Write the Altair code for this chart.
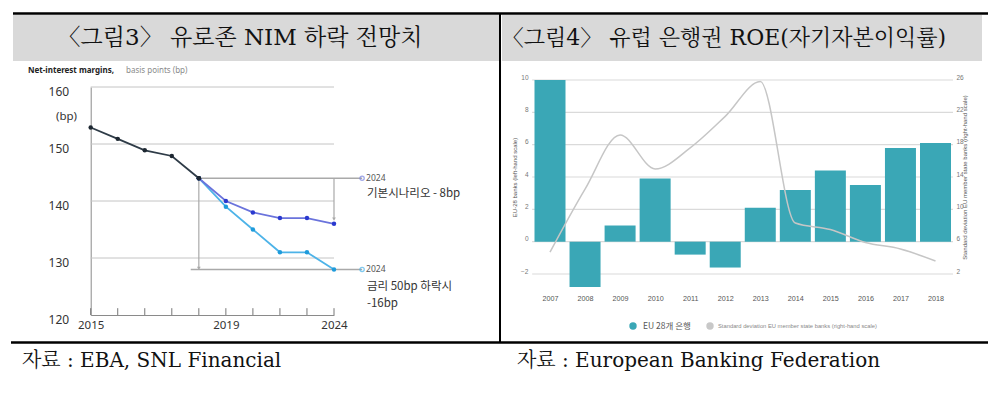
import altair as alt
import pandas as pd

W, H = 984, 382

# ---------------- left panel: Eurozone net-interest margin (bp)
nim_years_hist = [2015, 2016, 2017, 2018, 2019]
nim_hist = [152.9, 150.9, 148.9, 147.9, 144.0]
nim_years_fc = [2019, 2020, 2021, 2022, 2023, 2024]
nim_base = [144.0, 140.0, 138.0, 137.0, 137.0, 136.0]
nim_low = [144.0, 139.0, 135.0, 131.0, 131.0, 128.0]
nim_years = list(range(2015, 2025))
nim_ticks = [120, 130, 140, 150, 160]
nim_grid = [130, 140, 150, 160]
nim_xtick_labels = {2015: "2015", 2020: "2019", 2024: "2024"}

# ---------------- right panel: European banks ROE
roe_years = list(range(2007, 2019))
roe_eu28 = [10.0, -2.8, 1.0, 3.9, -0.8, -1.6, 2.1, 3.2, 4.4, 3.5, 5.8, 6.1]
roe_sd = [4.7, 12.5, 19.2, 15.0, 17.6, 21.5, 25.8, 8.3, 7.5, 5.9, 5.1, 3.6]
roe_left_ticks = [-2, 0, 2, 4, 6, 8, 10]
roe_right_ticks = [2, 6, 10, 14, 18, 22, 26]

SERIF = "DejaVu Serif, Noto Serif CJK KR, Noto Sans CJK KR"
KR = "Noto Sans CJK KR"
NARROW = "Liberation Sans Narrow, Arial Narrow, Liberation Sans"

one = pd.DataFrame({"k": [0]})

# ============ left chart =============
lx = alt.Scale(domain=[2015, 2024], range=[82.7, 326], nice=False, zero=False)
ly = alt.Scale(domain=[120, 160], range=[307, 79], nice=False, zero=False)
label_expr = " : ".join(f"datum.value == {k} ? '{v}'" for k, v in nim_xtick_labels.items()) + " : ''"
lx_axis = alt.Axis(orient="bottom", offset=307 - H, values=list(nim_xtick_labels), labelExpr=label_expr,
                   domain=True, domainColor="#8a8a8a", ticks=False, grid=False, labelFont="Noto Sans",
                   labelFontSize=11.5, labelColor="#333", labelPadding=4, labelFlush=False, title=None)
ly_axis = alt.Axis(orient="left", offset=-82.7, values=nim_ticks, format="d", domain=True,
                   domainColor="#8a8a8a", ticks=False, grid=False, labelFont="Noto Sans",
                   labelFontSize=12, labelColor="#333", labelPadding=22, labelOffset=4, title=None)

grid_l = alt.Chart(pd.DataFrame({"v": nim_grid})).transform_calculate(
    xa=str(nim_years[0]), xb=str(nim_years[-1])
).mark_rule(color="#c4c4c4", strokeWidth=1).encode(
    x=alt.X("xa:Q", scale=lx, axis=None), x2="xb:Q", y=alt.Y("v:Q", scale=ly, axis=None))

ticks_l = alt.Chart(pd.DataFrame({"year": nim_years})).transform_calculate(
    lo="120", hi="121.2"
).mark_rule(color="#777", strokeWidth=1).encode(
    x=alt.X("year:Q", scale=lx, axis=None), y=alt.Y("lo:Q", scale=ly, axis=None), y2="hi:Q")

base_end = nim_base[-1]
low_end = nim_low[-1]
start = nim_hist[-1]
ref_h = pd.DataFrame({"y": [start, low_end], "x0": [2019, 2018.7], "x1": [2025.04, 2025.04]})
ref_v = pd.DataFrame({"x": [2019, 2024], "y0": [start, start], "y1": [low_end + 0.2, base_end + 0.8]})
ref_h_l = alt.Chart(ref_h).mark_rule(color="#a9a9a9", strokeWidth=1.5).encode(
    x=alt.X("x0:Q", scale=lx, axis=None), x2="x1:Q", y=alt.Y("y:Q", scale=ly, axis=None))
ref_v_l = alt.Chart(ref_v).mark_rule(color="#a9a9a9", strokeWidth=1.2).encode(
    x=alt.X("x:Q", scale=lx, axis=None), y=alt.Y("y0:Q", scale=ly, axis=None), y2="y1:Q")
arrow_l = alt.Chart(ref_v).mark_point(shape="triangle-down", filled=True, size=14, color="#a9a9a9",
                                       opacity=1).encode(
    x=alt.X("x:Q", scale=lx, axis=None), y=alt.Y("y1:Q", scale=ly, axis=None))

hist_l = alt.Chart(pd.DataFrame({"year": nim_years_hist, "v": nim_hist})).mark_line(
    color="#2e3b47", strokeWidth=1.8,
    point=alt.OverlayMarkDef(color="#1d2731", size=20, filled=True)
).encode(x=alt.X("year:Q", scale=lx, axis=lx_axis), y=alt.Y("v:Q", scale=ly, axis=ly_axis))

low_l = alt.Chart(pd.DataFrame({"year": nim_years_fc, "v": nim_low})).mark_line(
    color="#4db3e8", strokeWidth=1.8,
    point=alt.OverlayMarkDef(color="#1e9bdb", size=20, filled=True)
).encode(x=alt.X("year:Q", scale=lx, axis=None), y=alt.Y("v:Q", scale=ly, axis=None))

base_l = alt.Chart(pd.DataFrame({"year": nim_years_fc, "v": nim_base})).mark_line(
    color="#6a73dc", strokeWidth=1.8,
    point=alt.OverlayMarkDef(color="#2a39cf", size=20, filled=True)
).encode(x=alt.X("year:Q", scale=lx, axis=None), y=alt.Y("v:Q", scale=ly, axis=None))

redraw_hist = alt.Chart(pd.DataFrame({"year": [2019], "v": [start]})).mark_point(
    color="#1d2731", size=20, filled=True, opacity=1
).encode(x=alt.X("year:Q", scale=lx, axis=None), y=alt.Y("v:Q", scale=ly, axis=None))

ends = pd.DataFrame({"scen": ["base", "low"], "y": [start, low_end], "x": [2025.04, 2025.04],
                     "lab": [str(nim_years_fc[-1])] * 2})
end_pts = alt.Chart(ends).mark_point(shape="circle", filled=False, size=18, strokeWidth=1.3).encode(
    x=alt.X("x:Q", scale=lx, axis=None), y=alt.Y("y:Q", scale=ly, axis=None),
    color=alt.Color("scen:N", scale=alt.Scale(domain=["base", "low"], range=["#7b84e0", "#4db3e8"]), legend=None))
end_txt = alt.Chart(ends).mark_text(align="left", baseline="middle", dx=4, fontSize=8.5,
                                    font="Noto Sans", color="#555").encode(
    x=alt.X("x:Q", scale=lx, axis=None), y=alt.Y("y:Q", scale=ly, axis=None), text="lab:N")

ann1 = alt.Chart(one).mark_text(text=f"기본시나리오 - {int(round(start - base_end))}bp", font=KR, fontSize=11.5,
                                color="#333", align="left", baseline="middle").encode(
    x=alt.value(359), y=alt.value(186))
ann2 = alt.Chart(one).mark_text(text="금리 50bp 하락시", font=KR, fontSize=11.5, color="#333",
                                align="left", baseline="middle").encode(x=alt.value(359), y=alt.value(279))
ann3 = alt.Chart(one).mark_text(text=f"-{int(round(start - low_end))}bp", font=KR, fontSize=11.5, color="#333",
                                align="left", baseline="middle").encode(x=alt.value(359), y=alt.value(296))
bp_lab = alt.Chart(one).mark_text(text="(bp)", font="Noto Sans", fontSize=11.5, color="#333",
                                  align="left", baseline="middle").encode(x=alt.value(48), y=alt.value(109))
sub1 = alt.Chart(one).mark_text(text="Net-interest margins,", font="Noto Sans", fontSize=8, fontWeight="bold",
                                color="#222", align="left", baseline="middle").encode(x=alt.value(20), y=alt.value(63))
sub2 = alt.Chart(one).mark_text(text="basis points (bp)", font="Noto Sans", fontSize=8, color="#8a8a8a",
                                align="left", baseline="middle").encode(x=alt.value(118), y=alt.value(63))

# ============ right chart =============
rx = alt.Scale(domain=[2007, 2018], range=[542, 927.5], nice=False, zero=False, padding=0)
ryl = alt.Scale(domain=[-2, 10], range=[266, 72], nice=False)
ryr = alt.Scale(domain=[2, 26], range=[266, 72], nice=False, zero=False)
rx_axis = alt.Axis(orient="bottom", offset=284 - H, values=roe_years, format="d", domain=False, ticks=False,
                   grid=False, labelFont=NARROW, labelFontSize=7.2, labelColor="#555", labelPadding=2,
                   labelFlush=False, title=None)
ryl_axis = alt.Axis(orient="left", offset=-522, values=roe_left_ticks, format="d", domain=False, ticks=False,
                    grid=False, labelFont=NARROW, labelFontSize=6.5, labelColor="#777", labelPadding=2,
                    labelOffset=-3, title="EU-28 banks (left-hand scale)", titleFont=NARROW, titleFontSize=6,
                    titleFontWeight="normal", titleColor="#555", titlePadding=3)
ryr_axis = alt.Axis(orient="right", offset=945 - W, values=roe_right_ticks, format="d", domain=False,
                    ticks=False, grid=False, labelFont=NARROW, labelFontSize=6.5, labelColor="#777",
                    labelPadding=3, labelOffset=-3,
                    title="Standard deviation EU member state banks (right-hand scale)", titleAngle=270,
                    titleFont=NARROW, titleFontSize=6, titleFontWeight="normal", titleColor="#555",
                    titlePadding=4)

grid_r = alt.Chart(pd.DataFrame({"v": roe_left_ticks})).transform_calculate(
    xa=str(roe_years[0] - 0.51), xb=str(roe_years[-1] + 0.5)
).mark_rule(color="#dadada", strokeWidth=1.2).encode(
    x=alt.X("xa:Q", scale=rx, axis=None), x2="xb:Q", y=alt.Y("v:Q", scale=ryl, axis=None))

bars_r = alt.Chart(pd.DataFrame({"year": roe_years, "roe": roe_eu28})).mark_bar(
    size=31, color="#3aa7b6").encode(
    x=alt.X("year:Q", scale=rx, axis=rx_axis), y=alt.Y("roe:Q", scale=ryl, axis=ryl_axis))

sd_r = alt.Chart(pd.DataFrame({"year": roe_years, "sd": roe_sd})).mark_line(
    color="#c6c6c6", strokeWidth=1.5, interpolate="monotone").encode(
    x=alt.X("year:Q", scale=rx, axis=None), y=alt.Y("sd:Q", scale=ryr, axis=ryr_axis))

leg1p = alt.Chart(one).mark_point(shape="circle", filled=True, size=55, color="#3aa7b6", opacity=1).encode(
    x=alt.value(625), y=alt.value(318))
leg1t = alt.Chart(one).mark_text(text="EU 28개 은행", font=KR, fontSize=8.5, color="#555", align="left",
                                 baseline="middle").encode(x=alt.value(635), y=alt.value(318))
leg2p = alt.Chart(one).mark_point(shape="circle", filled=True, size=55, color="#c8c8c8", opacity=1).encode(
    x=alt.value(702), y=alt.value(318))
leg2t = alt.Chart(one).mark_text(text="Standard deviation EU member state banks (right-hand scale)", font=NARROW,
                                 fontSize=5.8, color="#888", align="left", baseline="middle").encode(
    x=alt.value(710), y=alt.value(318))

# ============ page frame =============
band_l = alt.Chart(one).mark_rect(color="#d9d9d9").encode(
    x=alt.value(5), x2=alt.value(491), y=alt.value(7), y2=alt.value(53))
band_r = alt.Chart(one).mark_rect(color="#d9d9d9").encode(
    x=alt.value(494), x2=alt.value(974), y=alt.value(7), y2=alt.value(53))
top_line = alt.Chart(one).mark_rule(color="black", strokeWidth=2.5).encode(
    x=alt.value(5), x2=alt.value(980), y=alt.value(5.5))
bot_line = alt.Chart(one).mark_rule(color="black", strokeWidth=2.5).encode(
    x=alt.value(3), x2=alt.value(980), y=alt.value(334.5))
divider = alt.Chart(one).mark_rule(color="black", strokeWidth=2).encode(
    x=alt.value(492), y=alt.value(5), y2=alt.value(335))
title_l = alt.Chart(one).mark_text(text="〈그림3〉 유로존 NIM 하락 전망치", font=SERIF, fontSize=23, color="#111",
                                   align="center", baseline="middle").encode(x=alt.value(232), y=alt.value(30))
title_r = alt.Chart(one).mark_text(text="〈그림4〉 유럽 은행권 ROE(자기자본이익률)", font=SERIF, fontSize=22,
                                   color="#111", align="center", baseline="middle").encode(
    x=alt.value(716), y=alt.value(30))
src_l = alt.Chart(one).mark_text(text="자료 : EBA, SNL Financial", font=SERIF, fontSize=20, color="#111",
                                 align="left", baseline="middle").encode(x=alt.value(14), y=alt.value(353))
src_r = alt.Chart(one).mark_text(text="자료 : European Banking Federation", font=SERIF, fontSize=20,
                                 color="#111", align="left", baseline="middle").encode(x=alt.value(509),
                                                                                      y=alt.value(353))

chart = alt.layer(
    band_l, band_r, top_line, bot_line, divider, title_l, title_r, src_l, src_r,
    grid_l, ticks_l, ref_h_l, ref_v_l, arrow_l, low_l, base_l, hist_l, redraw_hist, end_pts, end_txt,
    ann1, ann2, ann3, bp_lab, sub1, sub2,
    grid_r, bars_r, sd_r, leg1p, leg1t, leg2p, leg2t,
).resolve_scale(x="independent", y="independent", color="independent").properties(
    width=W, height=H, autosize=alt.AutoSizeParams(type="none"), padding=0, background="white"
).configure_view(strokeWidth=0)

chart.save("out.html", embed_options={"renderer": "svg", "actions": False})
